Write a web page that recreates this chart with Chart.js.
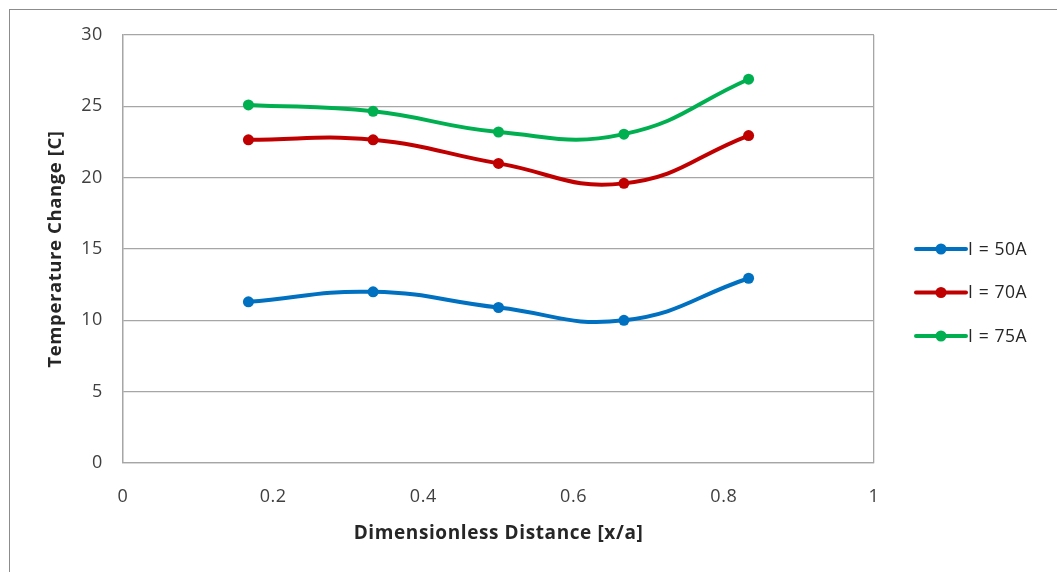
<!DOCTYPE html>
<html>
<head>
<meta charset="utf-8">
<script src="https://cdn.jsdelivr.net/npm/chart.js@4.4.1/dist/chart.umd.min.js"></script>
<style>
  html, body { margin: 0; padding: 0; background: #fff; }
  #frame {
    position: absolute; left: 9px; top: 9px; width: 1060px; height: 580px;
    border-top: 1px solid #8c8c8c; border-left: 1px solid #8c8c8c;
  }
  canvas { position: absolute; left: 0; top: 0; }
</style>
</head>
<body>
<div id="frame"></div>
<canvas id="chart" width="1057" height="572"></canvas>
<script>
// Data
const xValues = [0.167, 0.333, 0.5, 0.667, 0.833];
const seriesNames = ['I = 50A', 'I = 70A', 'I = 75A'];
const current50 = [11.3, 12.0, 10.9, 10.0, 12.95];
const current70 = [22.65, 22.65, 21.0, 19.6, 22.95];
const current75 = [25.1, 24.65, 23.2, 23.05, 26.9];
const seriesColors = ['#0070C0', '#C00000', '#00B050'];

const FONT = '"Open Sans", "Liberation Sans", sans-serif';
const GRID = '#a6a6a6';
const SPACING = '0.6px';

function pts(ys) {
    return xValues.map((x, i) => ({ x: x, y: ys[i] }));
}

const datasets = [current50, current70, current75].map((ys, i) => ({
    label: seriesNames[i],
    data: pts(ys),
    borderColor: seriesColors[i],
    backgroundColor: seriesColors[i],
    borderWidth: 4,
    pointRadius: 5.5,
    pointHoverRadius: 5.5,
    pointBorderWidth: 0,
    tension: 0.45,
    fill: false
}));

// wider text like the original Calibri rendering
const textSpacing = {
    id: 'textSpacing',
    beforeDraw(chart) {
        chart.ctx.letterSpacing = SPACING;
    }
};

// Excel-style legend: line with a marker in the middle
const sideLegend = {
    id: 'sideLegend',
    afterDraw(chart) {
        const ctx = chart.ctx;
        const x0 = 916, lineLen = 50, rowH = 43.5, yStart = 249;
        ctx.save();
        ctx.letterSpacing = SPACING;
        chart.data.datasets.forEach((ds, i) => {
            const y = yStart + i * rowH;
            ctx.strokeStyle = ds.borderColor;
            ctx.lineWidth = 4;
            ctx.lineCap = 'round';
            ctx.beginPath();
            ctx.moveTo(x0, y);
            ctx.lineTo(x0 + lineLen, y);
            ctx.stroke();
            ctx.fillStyle = ds.borderColor;
            ctx.beginPath();
            ctx.arc(x0 + lineLen / 2, y, 5.5, 0, Math.PI * 2);
            ctx.fill();
            ctx.fillStyle = '#262626';
            ctx.font = '17.5px ' + FONT;
            ctx.textBaseline = 'middle';
            ctx.fillText(ds.label, x0 + lineLen + 2, y + 1);
        });
        ctx.restore();
    }
};

new Chart(document.getElementById('chart').getContext('2d'), {
    type: 'line',
    data: { datasets: datasets },
    options: {
        responsive: false,
        animation: false,
        layout: { padding: { left: 0, top: 35, right: 183, bottom: 0 } },
        plugins: { legend: { display: false }, tooltip: { enabled: false } },
        scales: {
            x: {
                type: 'linear',
                min: 0,
                max: 1,
                ticks: {
                    stepSize: 0.2,
                    padding: 23,
                    color: '#404040',
                    font: { family: FONT, size: 18 },
                    callback: v => String(Math.round(v * 10) / 10)
                },
                grid: {
                    drawTicks: false,
                    color: c => (c.index === 0 || c.index === 5) ? GRID : 'rgba(0,0,0,0)',
                    lineWidth: 1.3
                },
                border: { display: true, color: GRID, width: 1.3 },
                title: {
                    display: true,
                    text: 'Dimensionless Distance [x/a]',
                    color: '#262626',
                    font: { family: FONT, size: 19, weight: 'bold' },
                    padding: { top: 0, bottom: 27 }
                },
                afterFit: s => { s.height = 109; }
            },
            y: {
                min: 0,
                max: 30,
                ticks: {
                    stepSize: 5,
                    padding: 20,
                    color: '#404040',
                    font: { family: FONT, size: 18 }
                },
                grid: { drawTicks: false, color: GRID, lineWidth: 1.3 },
                border: { display: true, color: GRID, width: 1.3 },
                title: {
                    display: true,
                    text: 'Temperature Change [C]',
                    color: '#262626',
                    font: { family: FONT, size: 18.5, weight: 'bold' },
                    padding: { top: 45, bottom: 0 }
                },
                afterFit: s => { s.width = 123; }
            }
        }
    },
    plugins: [textSpacing, sideLegend]
});
</script>
</body>
</html>
